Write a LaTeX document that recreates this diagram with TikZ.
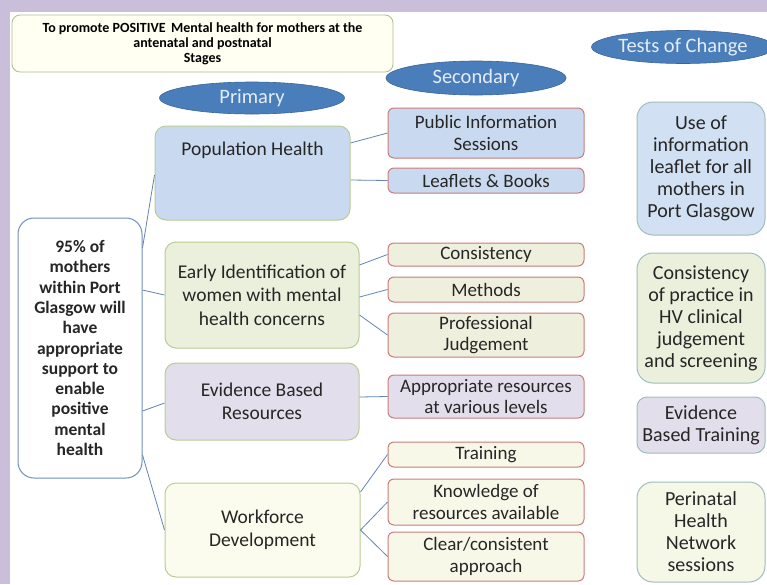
\documentclass[tikz,border=0pt]{standalone}
\usepackage{fontspec}
\setmainfont{Carlito}
\usetikzlibrary{shapes.geometric}
\definecolor{bglav}{HTML}{C9BFDB}
\definecolor{ellfill}{HTML}{4A7EBB}
\definecolor{elltext}{HTML}{E4ECF6}
\definecolor{secborder}{HTML}{CC7A7A}
\definecolor{priborder}{HTML}{B9CC92}
\definecolor{tstborder}{HTML}{9FBDBD}
\definecolor{rootborder}{HTML}{6F8FC0}
\definecolor{linecol}{HTML}{6384B5}
\definecolor{fblue}{HTML}{C9DAF0}
\definecolor{fgreen}{HTML}{EBF0DC}
\definecolor{flav}{HTML}{E3DEEC}
\definecolor{fyel}{HTML}{FCFCEE}
\definecolor{fbeige}{HTML}{EEEFDC}
\definecolor{ftitle}{HTML}{FFFFF2}
\definecolor{txt}{HTML}{262626}
\tikzset{
  ell/.style={ellipse, fill=ellfill, draw=ellfill!80!black, line width=0.6pt, inner sep=0pt,
     text=elltext, font=\fontsize{20.5}{22}\selectfont},
  pribox/.style={draw=priborder, line width=1pt, rounded corners=11pt, align=center, inner sep=0pt,
     text=txt, font=\fontsize{19.5}{23.5}\selectfont},
  secbox/.style={draw=secborder, line width=1pt, rounded corners=6pt, align=center, inner sep=0pt,
     text=txt, font=\fontsize{19}{21.5}\selectfont, minimum width=196pt},
  tstbox/.style={draw=tstborder, line width=1pt, rounded corners=16pt, align=center, inner sep=0pt,
     text=txt, font=\fontsize{20}{22}\selectfont, minimum width=128pt},
  conn/.style={draw=linecol, line width=0.8pt},
}
\begin{document}
\begin{tikzpicture}[x=1pt,y=-1pt]
\useasboundingbox (0,0) rectangle (767,584);
\fill[bglav] (0,0) rectangle (767,584);
\fill[white] (10,12) rectangle (767,584);

% title
\node[draw=priborder!80!gray, fill=ftitle, line width=0.8pt, rounded corners=8pt, minimum width=381pt, minimum height=57pt,
      inner sep=0pt, align=center, font=\fontsize{14}{15}\selectfont\bfseries, text=black] (title) at (202.5,43.5)
  {To promote POSITIVE\, Mental health for mothers at the\\ antenatal and postnatal\\ Stages};

% header ellipses
\node[ell, minimum width=185pt, minimum height=32pt] (primary) at (252,98) {Primary};
\node[ell, minimum width=180pt, minimum height=34pt] (secondary) at (476,78) {Secondary};
\node[ell, minimum width=165pt, minimum height=33pt] (tests) at (683,47) {Tests of Change};

% root
\node[draw=rootborder, fill=white, line width=1pt, rounded corners=16pt, minimum width=124pt, minimum height=260pt,
      inner sep=0pt, align=center, font=\fontsize{17.5}{20.3}\selectfont\bfseries, text=txt] (root) at (80,348)
  {95\% of\\ mothers\\ within Port\\ Glasgow will\\ have\\ appropriate\\ support to\\ enable\\ positive\\ mental\\ health};

% primary drivers
\node[pribox, fill=fblue, minimum width=195pt, minimum height=94pt,
      label={[anchor=north, text=txt, font=\fontsize{19.5}{23.5}\selectfont, yshift=-13pt]north:Population Health}] (ph) at (252.5,173) {};
\node[pribox, fill=fgreen, minimum width=194pt, minimum height=106pt] (ei) at (262,295)
  {Early Identification of\\ women with mental\\ health concerns};
\node[pribox, fill=flav, minimum width=194pt, minimum height=77pt] (ebr) at (262,401.5)
  {Evidence Based\\ Resources};
\node[pribox, fill=fyel, minimum width=195pt, minimum height=94pt] (wf) at (262.5,530)
  {Workforce\\ Development};

% secondary drivers
\node[secbox, fill=fblue, minimum height=50pt] (pis) at (486,133) {Public Information\\ Sessions};
\node[secbox, fill=fblue, minimum height=25pt] (lb) at (486,180.5) {Leaflets \& Books};
\node[secbox, fill=fbeige, minimum height=23pt] (cons) at (486,254.5) {Consistency};
\node[secbox, fill=fbeige, minimum height=25pt] (meth) at (486,289.5) {Methods};
\node[secbox, fill=fbeige, minimum height=44pt] (prof) at (486,335) {Professional\\ Judgement};
\node[secbox, fill=flav, minimum height=43pt] (appr) at (486,396.5) {Appropriate resources\\ at various levels};
\node[secbox, fill=fyel!70!fbeige, minimum height=25pt] (train) at (486,454.5) {Training};
\node[secbox, fill=fyel!70!fbeige, minimum height=46pt] (know) at (486,502) {Knowledge of\\ resources available};
\node[secbox, fill=fyel!70!fbeige, minimum height=49pt] (clear) at (486,556.5) {Clear/consistent\\ approach};

% tests of change
\node[tstbox, fill=fblue!85!white, minimum height=133pt] (t1) at (701,168.5)
  {Use of\\ information\\ leaflet for all\\ mothers in\\ Port Glasgow};
\node[tstbox, fill=fgreen, minimum height=130pt] (t2) at (701,318)
  {Consistency\\ of practice in\\ HV clinical\\ judgement\\ and screening};
\node[tstbox, rounded corners=10pt, fill=flav, minimum height=56pt] (t3) at (701,425)
  {Evidence\\ Based Training};
\node[tstbox, fill=fyel!60!fgreen, minimum height=100pt] (t4) at (701,532)
  {Perinatal\\ Health\\ Network\\ sessions};

% connectors
\draw[conn] ([yshift=100pt]root.east) -- ([yshift=-2pt]ph.west);
\draw[conn] ([yshift=58pt]root.east) -- (ei.west);
\draw[conn] ([yshift=-63pt]root.east) -- ([yshift=-1.5pt]ebr.west);
\draw[conn] ([yshift=-107pt]root.east) -- (wf.west);

\draw[conn] ([yshift=30pt]ph.east) -- (pis.west);
\draw[conn] ([yshift=-7pt]ph.east) -- (lb.west);
\draw[conn] ([yshift=30pt]ei.east) -- (cons.west);
\draw[conn] ([yshift=-2pt]ei.east) -- (meth.west);
\draw[conn] ([yshift=-20pt]ei.east) -- (prof.west);
\draw[conn] ([yshift=4.5pt]ebr.east) -- (appr.west);
\draw[conn] ([yshift=38pt]wf.east) -- (train.west);
\draw[conn] (wf.east) -- (know.west);
\draw[conn] (wf.east) -- (clear.west);
\end{tikzpicture}
\end{document}
